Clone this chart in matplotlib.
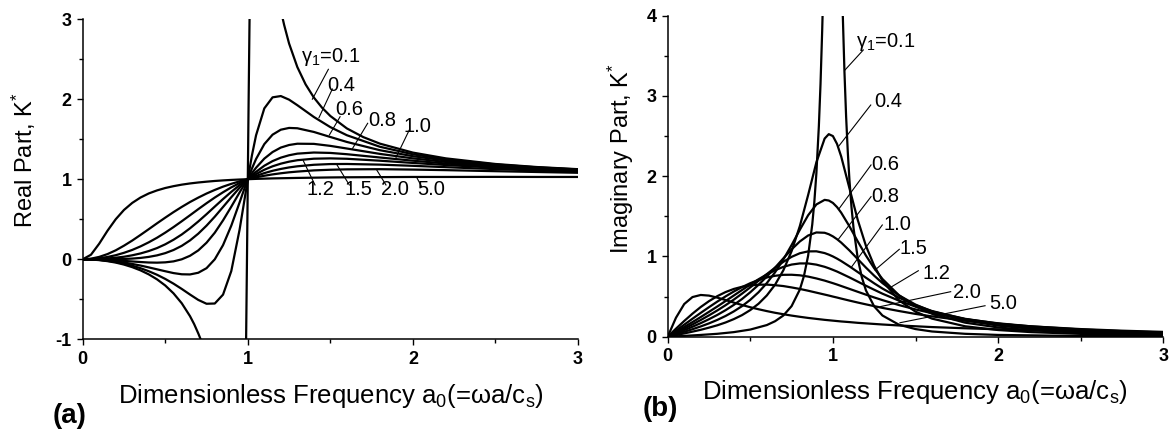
import matplotlib
matplotlib.use('Agg')
import matplotlib.pyplot as plt
from matplotlib.ticker import MultipleLocator

plt.rcParams['font.family'] = ['Liberation Sans', 'DejaVu Sans']
plt.rcParams['mathtext.fontset'] = 'custom'
plt.rcParams['mathtext.rm'] = 'Liberation Sans'
plt.rcParams['mathtext.it'] = 'Liberation Sans:italic'
plt.rcParams['mathtext.bf'] = 'Liberation Sans:bold'
plt.rcParams['axes.unicode_minus'] = False

# ---------------- data ----------------
A0 = [0, 0.05, 0.1, 0.15, 0.2, 0.25, 0.3, 0.35, 0.4, 0.45, 0.5, 0.55, 0.6, 0.65, 0.7,
      0.75, 0.8, 0.85, 0.9, 0.95, 0.975, 1.0, 1.025, 1.05, 1.1, 1.15, 1.2, 1.25, 1.3,
      1.4, 1.5, 1.6, 1.8, 2.0, 2.2, 2.5, 2.75, 3.0]

GAMMAS = ['0.4', '0.6', '0.8', '1.0', '1.2', '1.5', '2.0', '5.0']

RE_04 = [0, -0.002, -0.008, -0.019, -0.034, -0.055, -0.080, -0.111, -0.149, -0.193, -0.245,
         -0.304, -0.370, -0.440, -0.507, -0.555, -0.552, -0.441, -0.147, 0.367, 0.681, 1.0,
         1.297, 1.548, 1.884, 2.022, 2.038, 1.993, 1.924, 1.777, 1.650, 1.549, 1.405, 1.311,
         1.247, 1.184, 1.148, 1.122]
RE_06 = [0, -0.002, -0.006, -0.014, -0.026, -0.040, -0.058, -0.078, -0.101, -0.125, -0.149,
         -0.172, -0.187, -0.189, -0.168, -0.111, 0.0, 0.177, 0.420, 0.708, 0.857, 1.0, 1.133,
         1.252, 1.438, 1.556, 1.618, 1.640, 1.636, 1.590, 1.527, 1.465, 1.362, 1.287, 1.233,
         1.176, 1.143, 1.119]
RE_08 = [0, -0.001, -0.004, -0.008, -0.014, -0.020, -0.027, -0.034, -0.040, -0.042, -0.038,
         -0.026, 0.0, 0.044, 0.111, 0.207, 0.332, 0.486, 0.657, 0.834, 0.919, 1.0, 1.075,
         1.143, 1.257, 1.339, 1.395, 1.427, 1.443, 1.441, 1.416, 1.383, 1.316, 1.260, 1.215,
         1.166, 1.137, 1.115]
RE_10 = [0, 0.0, 0.0, 0.001, 0.002, 0.004, 0.009, 0.017, 0.030, 0.049, 0.077, 0.116, 0.168,
         0.236, 0.320, 0.420, 0.532, 0.653, 0.775, 0.893, 0.948, 1.0, 1.048, 1.092, 1.168,
         1.226, 1.269, 1.299, 1.319, 1.333, 1.328, 1.312, 1.271, 1.231, 1.196, 1.155, 1.130,
         1.110]
RE_12 = [0, 0.001, 0.005, 0.011, 0.020, 0.032, 0.050, 0.073, 0.103, 0.140, 0.187, 0.244,
         0.310, 0.387, 0.472, 0.563, 0.658, 0.752, 0.842, 0.926, 0.964, 1.0, 1.033, 1.064,
         1.118, 1.161, 1.194, 1.219, 1.237, 1.256, 1.260, 1.255, 1.231, 1.203, 1.177, 1.144,
         1.122, 1.104]
RE_15 = [0, 0.003, 0.013, 0.029, 0.051, 0.081, 0.117, 0.161, 0.212, 0.269, 0.333, 0.402,
         0.475, 0.550, 0.626, 0.700, 0.771, 0.837, 0.898, 0.952, 0.977, 1.0, 1.021, 1.041,
         1.076, 1.105, 1.128, 1.147, 1.161, 1.180, 1.189, 1.190, 1.182, 1.167, 1.150, 1.126,
         1.109, 1.095]
RE_20 = [0, 0.008, 0.030, 0.065, 0.112, 0.170, 0.234, 0.304, 0.376, 0.449, 0.520, 0.589,
         0.654, 0.715, 0.770, 0.821, 0.866, 0.907, 0.942, 0.973, 0.987, 1.0, 1.012, 1.023,
         1.043, 1.060, 1.074, 1.086, 1.095, 1.110, 1.118, 1.123, 1.125, 1.120, 1.113, 1.100,
         1.090, 1.080]
RE_50 = [0, 0.057, 0.195, 0.356, 0.500, 0.616, 0.704, 0.771, 0.822, 0.860, 0.890, 0.913,
         0.932, 0.947, 0.959, 0.969, 0.978, 0.985, 0.991, 0.996, 0.998, 1.0, 1.002, 1.004,
         1.007, 1.010, 1.012, 1.014, 1.016, 1.019, 1.022, 1.024, 1.026, 1.028, 1.028, 1.029,
         1.028, 1.028]

IM_04 = [0, 0.020, 0.041, 0.063, 0.086, 0.113, 0.142, 0.177, 0.219, 0.269, 0.332, 0.411,
         0.514, 0.648, 0.827, 1.066, 1.379, 1.765, 2.173, 2.469, 2.524, 2.5, 2.402, 2.247,
         1.851, 1.458, 1.132, 0.883, 0.697, 0.453, 0.312, 0.225, 0.130, 0.083, 0.057, 0.035,
         0.025, 0.018]
IM_06 = [0, 0.030, 0.061, 0.093, 0.128, 0.166, 0.209, 0.258, 0.315, 0.381, 0.460, 0.554,
         0.668, 0.803, 0.962, 1.142, 1.333, 1.513, 1.648, 1.705, 1.697, 1.667, 1.615, 1.546,
         1.376, 1.189, 1.011, 0.853, 0.719, 0.516, 0.379, 0.286, 0.175, 0.115, 0.080, 0.050,
         0.036, 0.027]
IM_08 = [0, 0.040, 0.081, 0.124, 0.169, 0.218, 0.271, 0.330, 0.396, 0.470, 0.554, 0.647,
         0.750, 0.861, 0.976, 1.088, 1.187, 1.261, 1.299, 1.295, 1.277, 1.25, 1.215, 1.173,
         1.075, 0.968, 0.861, 0.760, 0.668, 0.515, 0.400, 0.314, 0.203, 0.138, 0.099, 0.063,
         0.046, 0.034]
IM_10 = [0, 0.050, 0.101, 0.153, 0.208, 0.266, 0.327, 0.392, 0.462, 0.537, 0.615, 0.697,
         0.780, 0.860, 0.933, 0.995, 1.040, 1.063, 1.064, 1.042, 1.023, 1.0, 0.973, 0.943,
         0.877, 0.806, 0.735, 0.665, 0.600, 0.486, 0.393, 0.320, 0.218, 0.154, 0.112, 0.074,
         0.054, 0.041]
IM_12 = [0, 0.060, 0.121, 0.182, 0.245, 0.310, 0.376, 0.444, 0.513, 0.582, 0.650, 0.716,
         0.776, 0.828, 0.870, 0.899, 0.913, 0.913, 0.898, 0.871, 0.853, 0.833, 0.812, 0.788,
         0.739, 0.687, 0.635, 0.585, 0.536, 0.449, 0.375, 0.314, 0.223, 0.163, 0.122, 0.082,
         0.061, 0.047]
IM_15 = [0, 0.075, 0.150, 0.224, 0.297, 0.368, 0.437, 0.502, 0.563, 0.618, 0.667, 0.707,
         0.738, 0.759, 0.771, 0.772, 0.765, 0.749, 0.726, 0.699, 0.683, 0.667, 0.650, 0.632,
         0.596, 0.560, 0.524, 0.489, 0.456, 0.394, 0.340, 0.293, 0.219, 0.167, 0.129, 0.090,
         0.069, 0.053]
IM_20 = [0, 0.100, 0.196, 0.287, 0.370, 0.443, 0.505, 0.556, 0.595, 0.622, 0.640, 0.648,
         0.649, 0.642, 0.631, 0.614, 0.595, 0.573, 0.549, 0.525, 0.513, 0.5, 0.488, 0.475,
         0.450, 0.426, 0.403, 0.381, 0.359, 0.320, 0.284, 0.253, 0.200, 0.160, 0.129, 0.095,
         0.075, 0.060]
IM_50 = [0, 0.236, 0.407, 0.494, 0.520, 0.512, 0.487, 0.457, 0.425, 0.395, 0.367, 0.342,
         0.319, 0.298, 0.280, 0.263, 0.248, 0.234, 0.222, 0.210, 0.205, 0.2, 0.195, 0.190,
         0.182, 0.173, 0.166, 0.159, 0.152, 0.140, 0.130, 0.120, 0.105, 0.092, 0.081, 0.068,
         0.059, 0.052]

# gamma = 0.1 (sharp resonance, own frequency samples)
RE01_A0 = [0, 0.05, 0.1, 0.15, 0.2, 0.25, 0.3, 0.35, 0.4, 0.45, 0.5, 0.55, 0.6, 0.65, 0.675,
           0.7, 0.71, 0.72, 0.74, 0.8, 0.98, 0.985, 0.99, 0.995, 1.0, 1.005, 1.01, 1.015,
           1.05, 1.1, 1.15, 1.175, 1.2, 1.21, 1.22, 1.25, 1.3, 1.35, 1.4, 1.45, 1.5, 1.6,
           1.7, 1.8, 2.0, 2.2, 2.5, 2.75, 3.0]
RE_01 = [0, -0.003, -0.010, -0.023, -0.041, -0.066, -0.098, -0.138, -0.188, -0.250, -0.327,
         -0.425, -0.549, -0.710, -0.809, -0.925, -0.976, -1.031, -1.153, -1.647, -2.545,
         -1.812, -0.952, 0.003, 1.0, 1.983, 2.895, 3.695, 5.761, 4.737, 3.751, 3.399, 3.115,
         3.018, 2.927, 2.694, 2.400, 2.184, 2.020, 1.892, 1.789, 1.634, 1.525, 1.444, 1.332,
         1.260, 1.190, 1.152, 1.125]
IM01_A0 = [0, 0.1, 0.2, 0.3, 0.4, 0.5, 0.6, 0.65, 0.7, 0.75, 0.8, 0.825, 0.85, 0.875, 0.8875,
           0.9, 0.915, 0.925, 0.935, 0.94, 1.0, 1.055, 1.06, 1.07, 1.08, 1.09, 1.1, 1.1125,
           1.125, 1.15, 1.175, 1.2, 1.25, 1.3, 1.4, 1.5, 1.6, 1.8, 2.0, 2.5, 3.0]
IM_01 = [0, 0.010, 0.022, 0.036, 0.057, 0.089, 0.145, 0.193, 0.264, 0.381, 0.588, 0.758,
         1.009, 1.398, 1.676, 2.036, 2.624, 3.146, 3.807, 4.199, 10.0, 4.413, 3.998, 3.298,
         2.744, 2.306, 1.957, 1.616, 1.352, 0.981, 0.741, 0.577, 0.377, 0.264, 0.149, 0.095,
         0.065, 0.036, 0.022, 0.009, 0.005]

RE_SERIES = [RE_04, RE_06, RE_08, RE_10, RE_12, RE_15, RE_20, RE_50]
IM_SERIES = [IM_04, IM_06, IM_08, IM_10, IM_12, IM_15, IM_20, IM_50]

X_TICKS = [0, 1, 2, 3]
RE_TICKS = [-1, 0, 1, 2, 3]
IM_TICKS = [0, 1, 2, 3, 4]

# curve labels: text, text position (left, centre) and leader line end on the curve
G01 = 'γ$_\\mathregular{1}$=0.1'
RE_LABELS = [G01, '0.4', '0.6', '0.8', '1.0', '1.2', '1.5', '2.0', '5.0']
RE_TEXT_XY = [(1.32, 2.53), (1.484, 2.176), (1.528, 1.864), (1.73, 1.73), (1.946, 1.664),
              (1.357, 0.874), (1.583, 0.874), (1.805, 0.874), (2.029, 0.874)]
RE_LEAD = [((1.488, 2.372), (1.391, 1.999)), ((1.512, 2.126), (1.431, 1.768)),
           ((1.559, 1.78), (1.494, 1.552)), ((1.726, 1.698), (1.635, 1.386)),
           ((1.978, 1.614), (1.898, 1.273)), ((1.407, 0.928), (1.336, 1.231)),
           ((1.615, 0.928), (1.538, 1.186)), ((1.837, 0.928), (1.781, 1.115)),
           ((2.053, 0.906), (2.023, 1.023))]
IM_LABELS = [G01, '0.4', '0.6', '0.8', '1.0', '1.5', '1.2', '2.0', '5.0']
IM_TEXT_XY = [(1.14, 3.677), (1.249, 2.928), (1.235, 2.152), (1.235, 1.753), (1.305, 1.404),
              (1.406, 1.093), (1.543, 0.79), (1.725, 0.548), (1.947, 0.416)]
IM_LEAD = [((1.184, 3.573), (1.073, 3.323)), ((1.229, 2.887), (1.033, 2.368)),
           ((1.231, 2.14), (1.039, 1.6)), ((1.231, 1.745), (1.033, 1.214)),
           ((1.299, 1.392), (1.114, 0.872)), ((1.402, 1.089), (1.255, 0.831)),
           ((1.517, 0.822), (1.356, 0.623)), ((1.713, 0.561), (1.285, 0.374)),
           ((1.921, 0.386), (1.406, 0.174))]

XLABEL = 'Dimensionless Frequency a$_\\mathregular{0}$(=ωa/c$_\\mathregular{s}$)'

# ---------------- figure ----------------
W, H = 1174, 430
fig = plt.figure(figsize=(W / 100, H / 100), dpi=100)
axa = fig.add_axes([82.7 / W, 1 - 339.4 / H, 495.3 / W, 320.4 / H])
axb = fig.add_axes([667.7 / W, 1 - 336.7 / H, 495.6 / W, 321.0 / H])

LW = 1.6


def style(ax, ylim, yticks):
    for s in ('top', 'right'):
        ax.spines[s].set_visible(False)
    for s in ('left', 'bottom'):
        ax.spines[s].set_linewidth(1.1)
    ax.set_xticks(X_TICKS)
    ax.set_xticklabels([str(v) for v in X_TICKS], fontweight='bold', fontsize=13)
    ax.set_yticks(yticks)
    ax.set_yticklabels([str(v) for v in yticks], fontweight='bold', fontsize=13)
    ax.xaxis.set_minor_locator(MultipleLocator(0.5))
    ax.yaxis.set_minor_locator(MultipleLocator(0.5))
    ax.tick_params(which='major', direction='out', length=4.5, width=1.0, pad=3.5)
    ax.tick_params(which='minor', direction='out', length=3, width=1.0)
    ax.set_xlim(0, 3)
    ax.set_ylim(*ylim)


style(axa, (-1, 3), RE_TICKS)
style(axb, (0, 4), IM_TICKS)

axa.plot(RE01_A0, RE_01, color='black', lw=LW)
for ys in RE_SERIES:
    axa.plot(A0, ys, color='black', lw=LW)
axb.plot(IM01_A0, IM_01, color='black', lw=LW)
for ys in IM_SERIES:
    axb.plot(A0, ys, color='black', lw=LW)

for lab, (tx, ty), (p0, p1) in zip(RE_LABELS, RE_TEXT_XY, RE_LEAD):
    axa.text(tx, ty, lab, fontsize=14.5, ha='left', va='center')
    axa.plot([p0[0], p1[0]], [p0[1], p1[1]], color='black', lw=0.8)

for lab, (tx, ty), (p0, p1) in zip(IM_LABELS, IM_TEXT_XY, IM_LEAD):
    axb.text(tx, ty, lab, fontsize=14.5, ha='left', va='center')
    axb.plot([p0[0], p1[0]], [p0[1], p1[1]], color='black', lw=0.8)

# axis titles and panel tags
fig.text(331 / W, 1 - 396 / H, XLABEL, fontsize=18.5, ha='center', va='center')
fig.text(915 / W, 1 - 392 / H, XLABEL, fontsize=18.5, ha='center', va='center')
fig.text(24 / W, 1 - 160 / H, 'Real Part, K$^\\mathregular{*}$', fontsize=17,
         rotation=90, ha='center', va='center')
fig.text(621 / W, 1 - 159 / H, 'Imaginary Part, K$^\\mathregular{*}$', fontsize=17,
         rotation=90, ha='center', va='center')
fig.text(70 / W, 1 - 416 / H, '(a)', fontsize=20, fontweight='bold', ha='center', va='center')
fig.text(660 / W, 1 - 409 / H, '(b)', fontsize=20, fontweight='bold', ha='center', va='center')

fig.savefig('out.png', dpi=100)
